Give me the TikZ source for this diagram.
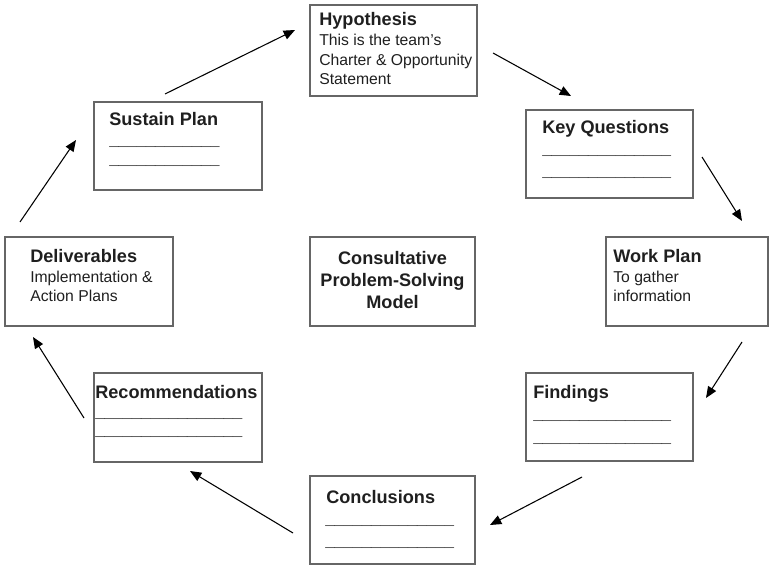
\documentclass[tikz,border=0pt]{standalone}
\usepackage{fontspec}
\setmainfont{Liberation Sans}
\usetikzlibrary{arrows.meta}
\begin{document}
\begin{tikzpicture}[x=0.75pt,y=-0.75pt,
  boxframe/.style={draw=black!60,line width=0.9pt},
  hd/.style={anchor=base west,inner sep=0pt,text=black!88,font=\fontsize{13.6}{16.5}\selectfont\bfseries},
  bd/.style={anchor=base west,inner sep=0pt,text=black!88,font=\fontsize{11.8}{14.6}\selectfont},
  ul/.style={anchor=base west,inner sep=0pt,text=black,font=\fontsize{12.4}{14.6}\selectfont\bfseries},
  ctr/.style={anchor=base,inner sep=0pt,text=black!88,font=\fontsize{13.6}{16.5}\selectfont\bfseries},
  flow/.style={line width=0.8pt,draw=black,-{Triangle[length=8.5pt,width=7pt]}}]
\useasboundingbox (0,0) rectangle (770,566);
% boxes
\draw[boxframe] (310,5) rectangle (477,96);
\draw[boxframe] (526,110) rectangle (693,198);
\draw[boxframe] (606,237) rectangle (768,326);
\draw[boxframe] (526,373) rectangle (693,461);
\draw[boxframe] (310,476) rectangle (475,564);
\draw[boxframe] (94,373) rectangle (262,462);
\draw[boxframe] (5,237) rectangle (173,326);
\draw[boxframe] (94,102) rectangle (262,190);
\draw[boxframe] (310,237) rectangle (475,326);
% Hypothesis
\node[hd] (hypT) at (319,26) {Hypothesis};
\node[bd] (hyp1) at (319,46) {This is the team’s};
\node[bd] (hyp2) at (319,66) {Charter \& Opportunity};
\node[bd] (hyp3) at (319,85) {Statement};
% Key Questions
\node[hd] (kqT) at (542,134) {Key Questions};
\node[ul] (kq1) at (542,154.5) {\_\_\_\_\_\_\_\_\_\_\_\_\_\_};
\node[ul] (kq2) at (542,176.5) {\_\_\_\_\_\_\_\_\_\_\_\_\_\_};
% Work Plan
\node[hd] (wpT) at (613,263) {Work Plan};
\node[bd] (wp1) at (613,282) {To gather};
\node[bd] (wp2) at (613,301) {information};
% Findings
\node[hd] (fiT) at (533,398) {Findings};
\node[ul] (fi1) at (533,419.5) {\_\_\_\_\_\_\_\_\_\_\_\_\_\_\_};
\node[ul] (fi2) at (533,442.5) {\_\_\_\_\_\_\_\_\_\_\_\_\_\_\_};
% Conclusions
\node[hd] (coT) at (326,503) {Conclusions};
\node[ul] (co1) at (325,524.5) {\_\_\_\_\_\_\_\_\_\_\_\_\_\_};
\node[ul] (co2) at (325,546.5) {\_\_\_\_\_\_\_\_\_\_\_\_\_\_};
% Recommendations
\node[hd] (reT) at (95,398) {Recommendations};
\node[ul] (re1) at (95,417.5) {\_\_\_\_\_\_\_\_\_\_\_\_\_\_\_\_};
\node[ul] (re2) at (95,435.5) {\_\_\_\_\_\_\_\_\_\_\_\_\_\_\_\_};
% Deliverables
\node[hd] (deT) at (30,263) {Deliverables};
\node[bd] (de1) at (30,282) {Implementation \&};
\node[bd] (de2) at (30,301) {Action Plans};
% Sustain Plan
\node[hd] (suT) at (109,126) {Sustain Plan};
\node[ul] (su1) at (109,145.5) {\_\_\_\_\_\_\_\_\_\_\_\_};
\node[ul] (su2) at (109,164.5) {\_\_\_\_\_\_\_\_\_\_\_\_};
% Center
\node[ctr] (c1) at (392.5,264.5) {Consultative};
\node[ctr] (c2) at (392.5,286.5) {Problem-Solving};
\node[ctr] (c3) at (392.5,308.5) {Model};
% arrow ends
\coordinate (a1s) at (165,94);  \coordinate (a1e) at (295,30);
\coordinate (a2s) at (493,53);  \coordinate (a2e) at (571,96);
\coordinate (a3s) at (702,157); \coordinate (a3e) at (742,221);
\coordinate (a4s) at (742,342); \coordinate (a4e) at (706,398);
\coordinate (a5s) at (582,477); \coordinate (a5e) at (490,525);
\coordinate (a6s) at (293,533); \coordinate (a6e) at (190,471);
\coordinate (a7s) at (84,418);  \coordinate (a7e) at (33,337);
\coordinate (a8s) at (20,222);  \coordinate (a8e) at (76,140);
\draw[flow] (a1s) -- (a1e);
\draw[flow] (a2s) -- (a2e);
\draw[flow] (a3s) -- (a3e);
\draw[flow] (a4s) -- (a4e);
\draw[flow] (a5s) -- (a5e);
\draw[flow] (a6s) -- (a6e);
\draw[flow] (a7s) -- (a7e);
\draw[flow] (a8s) -- (a8e);
\end{tikzpicture}
\end{document}
